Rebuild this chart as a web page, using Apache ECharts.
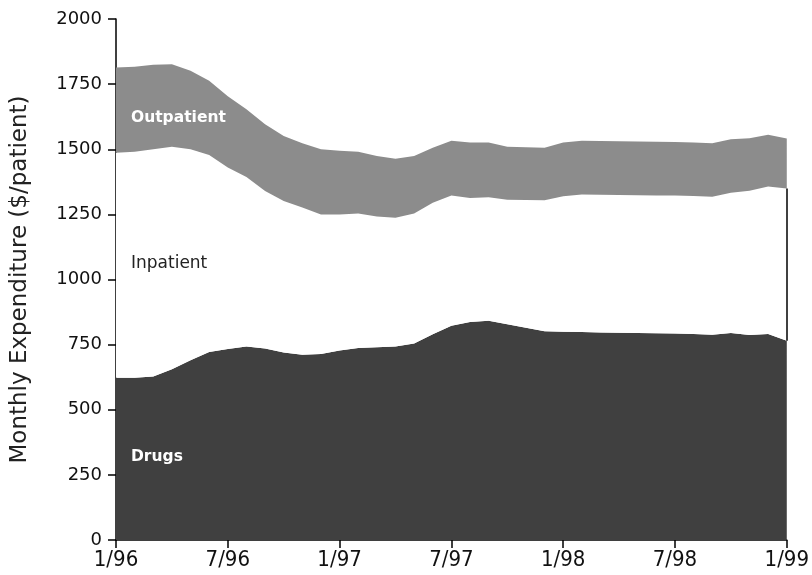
<!DOCTYPE html>
<html>
<head>
<meta charset="utf-8">
<script src="https://cdn.jsdelivr.net/npm/echarts@6/dist/echarts.min.js"></script>
<style>html,body{margin:0;padding:0;background:#fff}#c{width:812px;height:575px}</style>
</head>
<body>
<div id="c"></div>
<script>
var months = ["1/96","2/96","3/96","4/96","5/96","6/96","7/96","8/96","9/96","10/96","11/96","12/96",
"1/97","2/97","3/97","4/97","5/97","6/97","7/97","8/97","9/97","10/97","11/97","12/97",
"1/98","2/98","3/98","4/98","5/98","6/98","7/98","8/98","9/98","10/98","11/98","12/98","1/99"];
var drugs = [623,623,628,655,690,722,733,743,735,720,711,714,727,737,740,743,754,790,822,837,842,828,815,801,799,798,797,796,795,794,793,791,788,795,787,791,765];
var inpatient = [864,867,872,855,810,756,697,650,605,581,565,536,523,516,502,494,499,505,500,476,474,478,490,503,521,528,528,528,528,528,529,530,530,538,554,566,584];
var outpatient = [327,327,324,316,301,285,273,261,256,250,247,250,244,237,232,227,221,211,211,213,210,204,203,202,206,207,207,207,207,207,206,205,205,205,201,199,192];
var yTicks = [0,250,500,750,1000,1250,1500,1750,2000];

var last = months.length - 1;
var chart = echarts.init(document.getElementById('c'), null, {renderer:'canvas'});
var font = '"DejaVu Sans", "Liberation Sans", Arial, sans-serif';
var condFont = '"DejaVu Sans Condensed", "Liberation Sans", Arial, sans-serif';
function area(name, data, color, extra){
  var s = {name:name, type:'line', stack:'total', data:data, symbol:'none', smooth:false,
    lineStyle:{width:0}, areaStyle:{color:color, opacity:1}, silent:true};
  for (var k in extra) s[k] = extra[k];
  return s;
}
chart.setOption({
  animation:false,
  grid:{left:116, right:22, top:19, bottom:35},
  xAxis:{type:'category', data:months, boundaryGap:false,
    axisLine:{lineStyle:{color:'#000', width:1.5}},
    axisTick:{length:8, interval:5, lineStyle:{color:'#000', width:1.5}},
    axisLabel:{interval:5, margin:9, color:'#111', fontSize:22, fontFamily:condFont},
    splitLine:{show:false}},
  yAxis:{type:'value', min:yTicks[0], max:yTicks[yTicks.length-1], interval:250,
    name:'Monthly Expenditure ($/patient)', nameLocation:'middle', nameGap:84,
    nameTextStyle:{fontSize:23, color:'#222', fontFamily:font},
    axisLine:{show:true, lineStyle:{color:'#000', width:1.5}},
    axisTick:{show:true, length:8, lineStyle:{color:'#000', width:1.5}},
    axisLabel:{margin:14, color:'#111', fontSize:18, fontFamily:font,
      formatter:function(v){ return String(v); }},
    splitLine:{show:false}},
  series:[
    area('Drugs', drugs, '#404040', {z:2}),
    area('Inpatient', inpatient, '#ffffff', {z:2, markLine:{silent:true, symbol:'none', label:{show:false},
      lineStyle:{color:'#000', width:1.5, type:'solid'},
      data:[[{coord:[months[last], drugs[last]]},{coord:[months[last], drugs[last]+inpatient[last]]}]]}}),
    area('Outpatient', outpatient, '#8c8c8c', {z:2})
  ],
  graphic:[
    {type:'text', left:131, top:110, z:10, style:{text:'Outpatient', fill:'#fff', font:'bold 15.5px ' + font}},
    {type:'text', left:131, top:255, z:10, style:{text:'Inpatient', fill:'#222', font:'17px ' + font}},
    {type:'text', left:131, top:449, z:10, style:{text:'Drugs', fill:'#fff', font:'bold 15.5px ' + font}}
  ]
});
</script>
</body>
</html>
